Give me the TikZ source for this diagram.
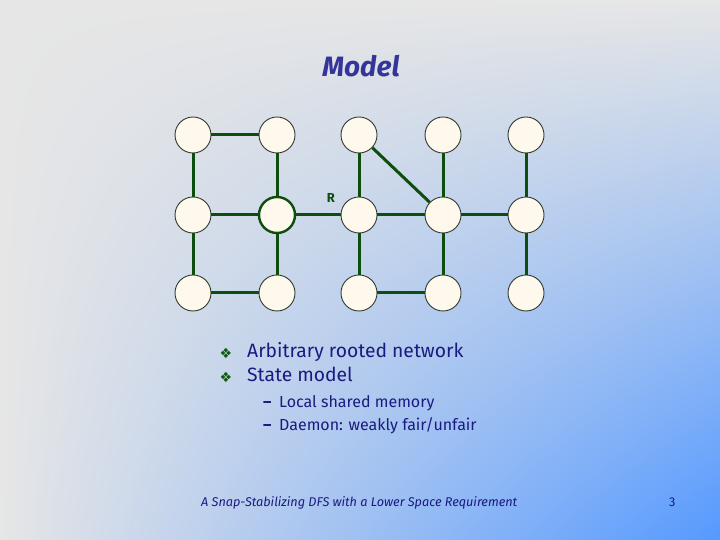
\documentclass[tikz,border=0pt]{standalone}
\usepackage{fontspec}
\usetikzlibrary{shadings}
\setmainfont{Fira Sans}
\newfontfamily\symfont{DejaVu Sans}
\definecolor{bgG}{HTML}{E6E6E6}
\definecolor{bgB}{HTML}{5599FF}
\definecolor{edgeG}{HTML}{0D4D0D}
\definecolor{nodeF}{HTML}{FFF8EC}
\definecolor{nodeB}{HTML}{2E3A2E}
\definecolor{titleC}{HTML}{343499}
\definecolor{textC}{HTML}{1A1A80}
\definecolor{bulletC}{HTML}{0B5B0B}
\tikzset{
  vtx/.style={circle, draw=nodeB, line width=0.9pt, fill=nodeF, minimum size=36pt, inner sep=0pt},
  rootvtx/.style={vtx, draw=edgeG, line width=2.4pt},
  lnk/.style={draw=edgeG, line width=3pt},
  txt/.style={anchor=base west, text=textC, inner sep=0pt},
  bul/.style={anchor=base, text=bulletC, inner sep=0pt, font=\symfont\fontsize{14}{14}\selectfont}
}
\begin{document}
\begin{tikzpicture}[x=1pt,y=1pt]
\useasboundingbox (0,0) rectangle (720,540);
\shade[upper left=bgG, upper right=bgG, lower left=bgG, lower right=bgB] (0,0) rectangle (720,540);

% title
\node[text=titleC, inner sep=0pt, font=\fontsize{28}{28}\selectfont\bfseries\itshape] (title) at (361,474) {Model};

% graph nodes
\node[vtx] (a0) at (193,405) {};
\node[vtx] (b0) at (277,405) {};
\node[vtx] (c0) at (359,405) {};
\node[vtx] (d0) at (443,405) {};
\node[vtx] (e0) at (526,405) {};
\node[vtx] (a1) at (193,325) {};
\node[rootvtx] (b1) at (277,325) {};
\node[vtx] (c1) at (359,325) {};
\node[vtx] (d1) at (443,325) {};
\node[vtx] (e1) at (526,325) {};
\node[vtx] (a2) at (193,247) {};
\node[vtx] (b2) at (277,247) {};
\node[vtx] (c2) at (359,247) {};
\node[vtx] (d2) at (443,247) {};
\node[vtx] (e2) at (526,247) {};

\node[text=edgeG, inner sep=0pt, font=\fontsize{13}{13}\selectfont\bfseries] (rlab) at (331,342) {R};

% edges
\draw[lnk] (a0) -- (b0);
\draw[lnk] (a0) -- (a1);
\draw[lnk] (a1) -- (a2);
\draw[lnk] (b0) -- (b1);
\draw[lnk] (b1) -- (b2);
\draw[lnk] (a1) -- (b1);
\draw[lnk] (a2) -- (b2);
\draw[lnk] (b1) -- (c1);
\draw[lnk] (c0) -- (c1);
\draw[lnk] (c0) -- (d1);
\draw[lnk] (c1) -- (d1);
\draw[lnk] (c1) -- (c2);
\draw[lnk] (d0) -- (d1);
\draw[lnk] (d1) -- (d2);
\draw[lnk] (d1) -- (e1);
\draw[lnk] (c2) -- (d2);
\draw[lnk] (e0) -- (e1);
\draw[lnk] (e1) -- (e2);

% bullets
\node[bul] (bu1) at (226,181) {❖};
\node[bul] (bu2) at (226,157) {❖};
\node[txt, font=\fontsize{19.3}{19.3}\selectfont] (t1) at (247,182) {Arbitrary rooted network};
\node[txt, font=\fontsize{19.3}{19.3}\selectfont] (t2) at (247,158) {State model};
\node[txt, font=\fontsize{16}{16}\selectfont\bfseries] (d1m) at (263,132) {–};
\node[txt, font=\fontsize{16}{16}\selectfont] (s1) at (279,132) {Local shared memory};
\node[txt, font=\fontsize{16}{16}\selectfont\bfseries] (d2m) at (263,109) {–};
\node[txt, font=\fontsize{16}{16}\selectfont] (s2) at (279,109) {Daemon: weakly fair/unfair};

% footer
\node[txt, font=\fontsize{12.7}{12.7}\selectfont\itshape] (foot) at (201,33) {A Snap-Stabilizing DFS with a Lower Space Requirement};
\node[txt, font=\fontsize{12.7}{12.7}\selectfont] (pg) at (669,33) {3};
\end{tikzpicture}
\end{document}
